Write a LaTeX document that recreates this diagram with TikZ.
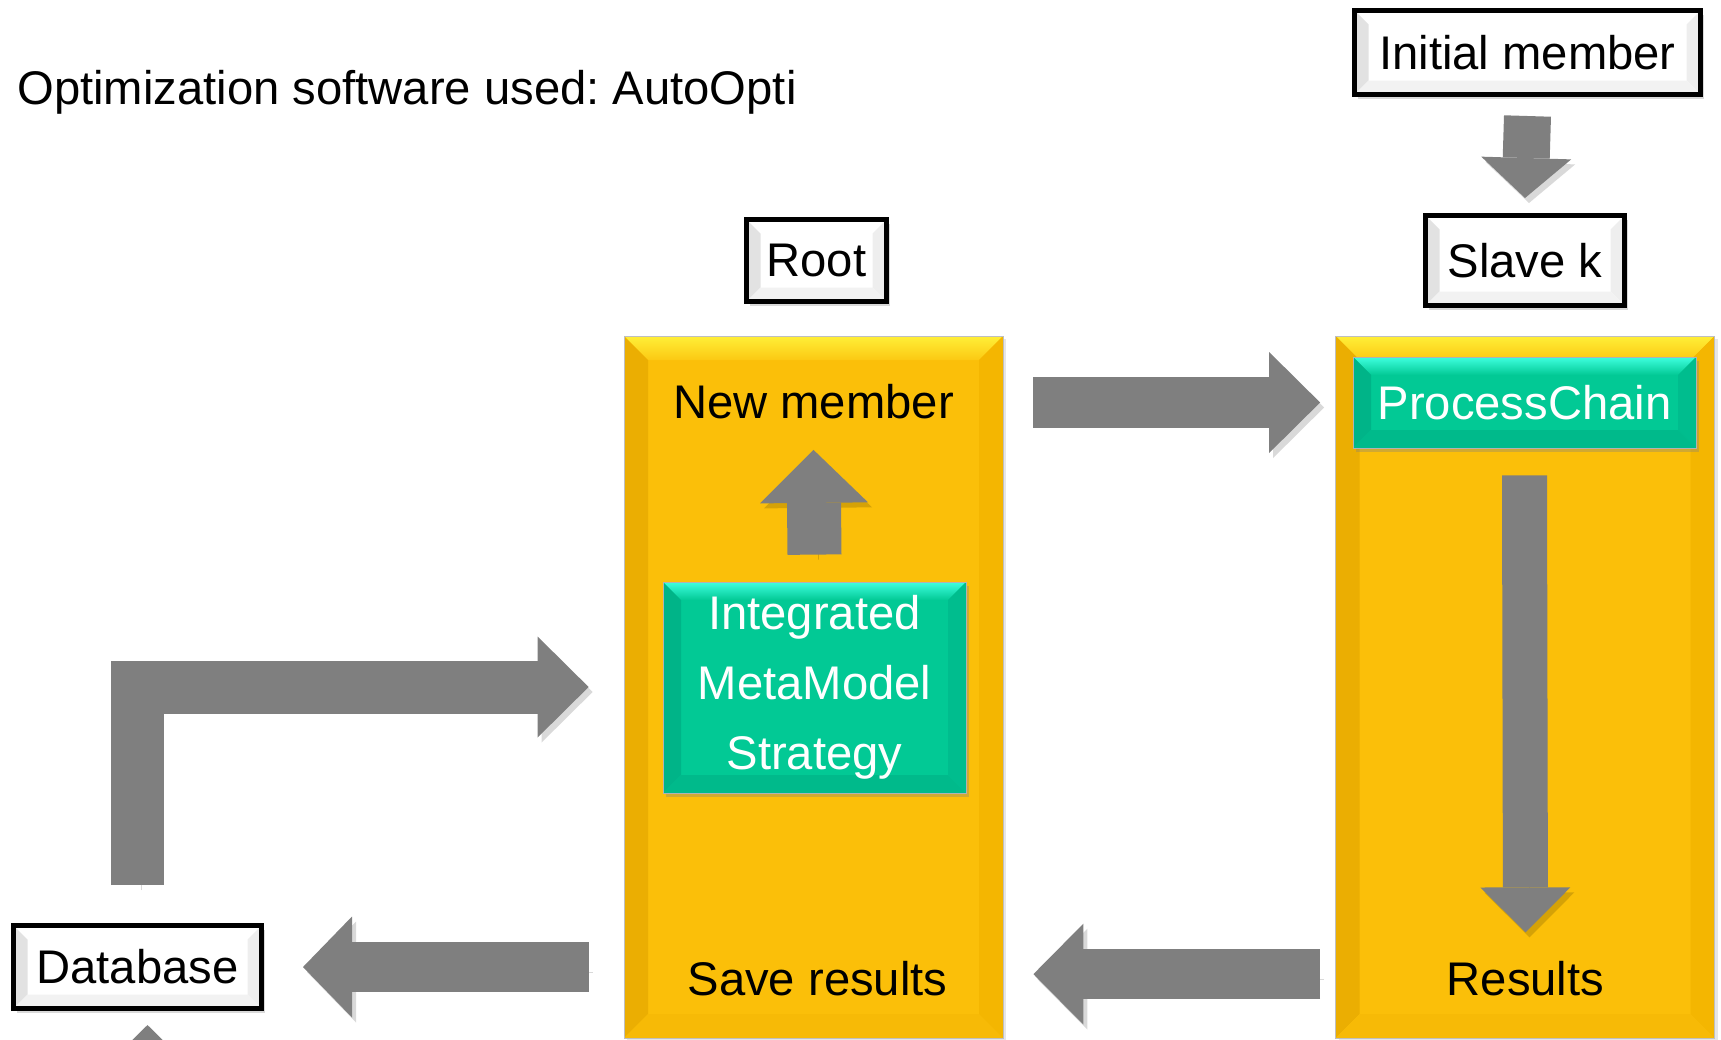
\documentclass[tikz,border=0pt]{standalone}
\usepackage{fontspec}
\setmainfont{Liberation Sans}
\usetikzlibrary{calc, positioning}
\usetikzlibrary{arrows.meta}
\usetikzlibrary{shadows}
\frenchspacing

\definecolor{colyellow}{HTML}{FBBF09}
\definecolor{yellowtop}{HTML}{FFEF38}
\definecolor{yellowleft}{HTML}{EBAE02}
\definecolor{yellowright}{HTML}{F4B601}
\definecolor{yellowbottom}{HTML}{F7BA06}
\definecolor{colteal}{HTML}{02C995}
\definecolor{tealtop}{HTML}{3EFFDF}
\definecolor{tealleft}{HTML}{00B488}
\definecolor{tealright}{HTML}{00BD8E}
\definecolor{tealbottom}{HTML}{00BA8B}
\definecolor{greyleft}{HTML}{E2E2E2}
\definecolor{greyright}{HTML}{EEEEEE}
\definecolor{greybottom}{HTML}{F2F2F2}
\definecolor{arrowgrey}{HTML}{7F7F7F}

% four bevel faces inside a node (top, left, right, bottom, width)
\newcommand{\bevelfaces}[5]{%
  \coordinate (bvnw) at (path picture bounding box.north west);
  \coordinate (bvne) at (path picture bounding box.north east);
  \coordinate (bvsw) at (path picture bounding box.south west);
  \coordinate (bvse) at (path picture bounding box.south east);
  \fill[#1] (bvnw) -- (bvne) -- ([shift={(-#5,-#5)}]bvne) -- ([shift={(#5,-#5)}]bvnw) -- cycle;
  \fill[#2] (bvnw) -- ([shift={(#5,-#5)}]bvnw) -- ([shift={(#5,#5)}]bvsw) -- (bvsw) -- cycle;
  \fill[#3] (bvne) -- ([shift={(-#5,-#5)}]bvne) -- ([shift={(-#5,#5)}]bvse) -- (bvse) -- cycle;
  \fill[#4] (bvsw) -- ([shift={(#5,#5)}]bvsw) -- ([shift={(-#5,#5)}]bvse) -- (bvse) -- cycle;
}

\tikzset{
  every node/.style={font=\fontsize{23.6}{35}\selectfont},
  plaintext/.style={inner sep=0pt},
  labelbox/.style={draw=black, line width=2.5pt, fill=white, inner sep=0pt,
    path picture={\bevelfaces{fill=white}{fill=greyleft}{fill=greyright}{fill=greybottom}{7pt}},
    drop shadow={opacity=0.3, shadow xshift=1.5pt, shadow yshift=-2pt}},
  column/.style={draw=black!25, line width=0.4pt, fill=colyellow, inner sep=0pt,
    minimum width=189.5pt, minimum height=351pt,
    path picture={\bevelfaces{top color=yellowtop, bottom color=colyellow!80!yellowtop}{fill=yellowleft}{fill=yellowright}{fill=yellowbottom}{12pt}},
    drop shadow={opacity=0.2, shadow xshift=1.5pt, shadow yshift=-1.5pt}},
  chainbox/.style={draw=black!30, line width=0.4pt, fill=colteal, text=white, inner sep=0pt,
    path picture={\bevelfaces{top color=tealtop, bottom color=colteal}{fill=tealleft}{fill=tealright}{fill=tealbottom}{9pt}},
    drop shadow={opacity=0.35, shadow xshift=1.5pt, shadow yshift=-2pt}},
  blockarrow/.style n args={3}{draw=arrowgrey, line width=#1,
    -{Triangle[width=#2, length=#3, line width=0pt]},
    preaction={draw=black, opacity=0.15, transform canvas={shift={(2pt,-2.5pt)}}}},
}

\begin{document}
\begin{tikzpicture}[x=0.5pt, y=-0.5pt, line cap=butt]
\path[use as bounding box, clip] (0,0) rectangle (1721,1040);

% Columns
\node[column] (rootcol) at (813.5,687) {};
\node[column] (slavecol) at (1525,687) {};

% Labels above and beside the columns
\node[plaintext, anchor=base west] (title) at (17,104) {Optimization software used: AutoOpti};
\node[labelbox, minimum width=173pt, minimum height=42pt] (initmem) at (1527.5,52.5) {Initial member};
\node[labelbox, minimum width=99.5pt, minimum height=45pt] (slave) at (1525,260.5) {Slave k};
\node[labelbox, minimum width=70pt, minimum height=41pt] (root) at (816.5,260.5) {Root};
\node[labelbox, minimum width=124pt, minimum height=41.5pt] (database) at (137.5,967) {Database};

% Inner boxes
\node[chainbox, minimum width=171.5pt, minimum height=45.5pt] (procchain) at (1524.5,402.5) {ProcessChain};
\node[chainbox, minimum width=151.5pt, minimum height=105.5pt, align=center] (imms) at (814.5,687.5) {Integrated\\MetaModel\\Strategy};

% Texts in the columns
\node[plaintext, anchor=base] (newmem) at (813.5,418) {New member};
\node[plaintext, anchor=base] (saveres) at (817.5,995) {Save results};
\node[plaintext, anchor=base] (results) at (1525.5,995) {Results};

% Block arrows
\draw[blockarrow={23.5pt}{45pt}{20pt}] ([yshift=-9.5pt]initmem.south) -- ([yshift=7.5pt]slave.north);
\draw[blockarrow={27pt}{54pt}{26.5pt}] ([yshift=13.5pt]imms.north) -- ([yshift=-15.5pt]newmem.south);
\draw[blockarrow={25.5pt}{50.5pt}{25.5pt}] ($(procchain.west -| rootcol.east)+(15pt,0)$) -- ($(procchain.west -| slavecol.west)+(-7.5pt,0)$);
\draw[blockarrow={22.5pt}{45pt}{22.5pt}] ([yshift=-13.5pt]procchain.south) -- ([yshift=14pt]results.north);
\draw[blockarrow={25pt}{50.5pt}{25pt}] ($(results.west -| slavecol.west)+(-7.5pt,2pt)$) -- ($(results.west -| rootcol.east)+(15pt,2pt)$);
\draw[blockarrow={25pt}{50.5pt}{24.5pt}] ($(database.east -| rootcol.west)+(-17.5pt,0)$) -- ([xshift=19.5pt]database.east);
\draw[blockarrow={26.5pt}{50.5pt}{25.5pt}] ([yshift=19pt]database.north) |- ([xshift=-17.5pt]rootcol.west);
\draw[blockarrow={25pt}{50.5pt}{25pt}] ([xshift=5pt,yshift=-60pt]database.south) -- ([xshift=5pt,yshift=-7pt]database.south);
\end{tikzpicture}
\end{document}
